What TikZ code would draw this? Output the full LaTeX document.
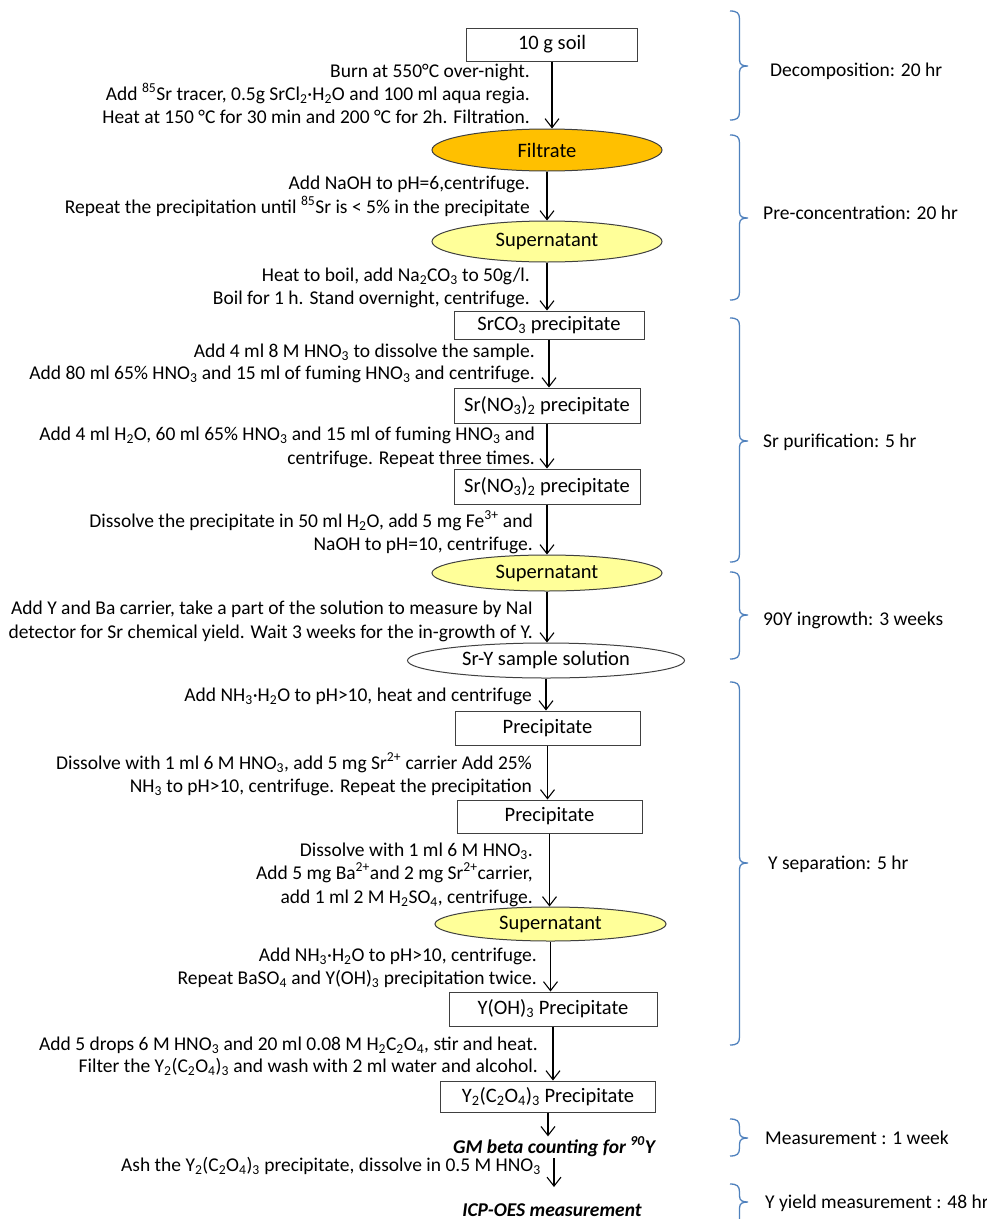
\documentclass[tikz,border=0pt]{standalone}
\usepackage{fontspec}
\setmainfont{Carlito}
\usetikzlibrary{arrows.meta,shapes.geometric}
\definecolor{brcblue}{RGB}{79,129,189}
\definecolor{filtc}{RGB}{255,192,0}
\definecolor{supc}{RGB}{255,255,153}
\definecolor{edgec}{RGB}{64,64,64}
\newcommand\ybrace[3]{\draw[brc] (730,#1) .. controls (737,#1) and (739.5,#1+2) .. (739.5,#1+8) -- (739.5,#2-6) .. controls (739.5,#2-1) and (743,#2) .. (748,#2) .. controls (743,#2) and (739.5,#2+1) .. (739.5,#2+6) -- (739.5,#3-8) .. controls (739.5,#3-2) and (737,#3) .. (730,#3);}
\newcommand\sub[1]{\textsubscript{#1}}
\newcommand\sups[1]{\textsuperscript{#1}}
\begin{document}
\begin{tikzpicture}[x=1pt,y=-1pt,font=\fontsize{19.5}{23}\selectfont,
  box/.style={draw=edgec,line width=1pt,fill=white,inner sep=0pt,font=\fontsize{20.5}{24}\selectfont},
  oval/.style={ellipse,draw=edgec,line width=1pt,inner sep=0pt,font=\fontsize{20.5}{24}\selectfont},
  note/.style={anchor=base east,inner sep=0pt},
  lbl/.style={anchor=base west,inner sep=0pt},
  res/.style={anchor=base,inner sep=0pt,font=\fontsize{19.5}{23}\selectfont\bfseries\itshape},
  arr/.style={-{Straight Barb[length=9pt,width=14pt]},line width=1.1pt},
  brc/.style={draw=brcblue,line width=1.3pt}]
\useasboundingbox (0,0) rectangle (987,1219);
\clip (0,0) rectangle (987,1219);
\fill[white] (0,0) rectangle (987,1219);

% main chain
\node[box,minimum width=171pt,minimum height=33pt] (n1) at (552,44.5) {10 g soil};
\node[oval,fill=filtc,minimum width=230pt,minimum height=42pt] (n2) at (547,150) {Filtrate};
\node[oval,fill=supc,minimum width=230pt,minimum height=41pt] (n3) at (547,241.5) {Supernatant};
\node[box,minimum width=190pt,minimum height=28pt] (n4) at (549,325) {SrCO\sub{3} precipitate};
\node[box,minimum width=186pt,minimum height=35pt] (n5) at (547,405.5) {Sr(NO\sub{3})\sub{2} precipitate};
\node[box,minimum width=186pt,minimum height=35pt] (n6) at (547,486.5) {Sr(NO\sub{3})\sub{2} precipitate};
\node[oval,fill=supc,minimum width=230pt,minimum height=36pt] (n7) at (547,573) {Supernatant};
\node[oval,fill=white,minimum width=277pt,minimum height=35pt] (n8) at (546,660.5) {Sr-Y sample solution};
\node[box,minimum width=185pt,minimum height=34pt] (n9) at (547.5,728) {Precipitate};
\node[box,minimum width=185pt,minimum height=33pt] (n10) at (549.5,816.5) {Precipitate};
\node[oval,fill=supc,minimum width=231pt,minimum height=34pt] (n11) at (550.5,924) {Supernatant};
\node[box,minimum width=208pt,minimum height=34pt] (n12) at (553,1009) {Y(OH)\sub{3} Precipitate};
\node[box,minimum width=215pt,minimum height=31pt] (n13) at (548,1096.5) {Y\sub{2}(C\sub{2}O\sub{4})\sub{3} Precipitate};
\node[res] (n14) at (554,1153) {GM beta counting for \sups{90}Y};
\node[res] (n15) at (552,1216) {ICP-OES measurement};

\draw[arr] (n1.south) -- (n1.south |- n2.north);
\draw[arr] (n2.south) -- (n2.south |- n3.north);
\draw[arr] (n3.south) -- (n3.south |- n4.north);
\draw[arr] (n4.south) -- (n4.south |- n5.north);
\draw[arr] (n5.south) -- (n5.south |- n6.north);
\draw[arr] (n6.south) -- (n6.south |- n7.north);
\draw[arr] (n7.south) -- (n7.south |- n8.north);
\draw[arr] (n8.south) -- (n8.south |- n9.north);
\draw[arr] (n9.south) -- (n9.south |- n10.north);
\draw[arr] (n10.south) -- (n10.south |- n11.north);
\draw[arr] (n11.south) -- (n11.south |- n12.north);
\draw[arr] (n12.south) -- (n12.south |- n13.north);
\draw[arr] (n13.south) -- (n13.south |- n14.north);
\draw[arr,shorten >=16pt] ([yshift=-2pt]n14.south) -- (n14.south |- n15.north);

% step notes
\node[note] (t1a) at (530,77) {Burn at 550°C over-night.};
\node[note] (t1b) at (530,100) {Add \sups{85}Sr tracer, 0.5g SrCl\sub{2}·H\sub{2}O and 100 ml aqua regia.};
\node[note] (t1c) at (530,123) {Heat at 150 °C for 30 min and 200 °C for 2h. Filtration.};
\node[note] (t2a) at (530,189) {Add NaOH to pH=6,centrifuge.};
\node[note] (t2b) at (530,213) {Repeat the precipitation until \sups{85}Sr is < 5\% in the precipitate};
\node[note] (t3a) at (530,281) {Heat to boil, add Na\sub{2}CO\sub{3} to 50g/l.};
\node[note] (t3b) at (530,304) {Boil for 1 h. Stand overnight, centrifuge.};
\node[note] (t4a) at (535,357) {Add 4 ml 8 M HNO\sub{3} to dissolve the sample.};
\node[note] (t4b) at (535,379) {Add 80 ml 65\% HNO\sub{3} and 15 ml of fuming HNO\sub{3} and centrifuge.};
\node[note] (t5a) at (535,440) {Add 4 ml H\sub{2}O, 60 ml 65\% HNO\sub{3} and 15 ml of fuming HNO\sub{3} and};
\node[note] (t5b) at (535,464) {centrifuge. Repeat three times.};
\node[note] (t6a) at (533,527) {Dissolve the precipitate in 50 ml H\sub{2}O, add 5 mg Fe\sups{3+} and};
\node[note] (t6b) at (533,550) {NaOH to pH=10, centrifuge.};
\node[note] (t7a) at (533,614) {Add Y and Ba carrier, take a part of the solution to measure by NaI};
\node[note] (t7b) at (533,638) {detector for Sr chemical yield. Wait 3 weeks for the in-growth of Y.};
\node[note] (t8a) at (532,701) {Add NH\sub{3}·H\sub{2}O to pH>10, heat and centrifuge};
\node[note] (t9a) at (532,769) {Dissolve with 1 ml 6 M HNO\sub{3}, add 5 mg Sr\sups{2+} carrier Add 25\%};
\node[note] (t9b) at (532,792) {NH\sub{3} to pH>10, centrifuge. Repeat the precipitation};
\node[note] (t10a) at (533,856) {Dissolve with 1 ml 6 M HNO\sub{3}.};
\node[note] (t10b) at (533,879) {Add 5 mg Ba\sups{2+}and 2 mg Sr\sups{2+}carrier,};
\node[note] (t10c) at (533,903) {add 1 ml 2 M H\sub{2}SO\sub{4}, centrifuge.};
\node[note] (t11a) at (537,961) {Add NH\sub{3}·H\sub{2}O to pH>10, centrifuge.};
\node[note] (t11b) at (537,984) {Repeat BaSO\sub{4} and Y(OH)\sub{3} precipitation twice.};
\node[note] (t12a) at (538,1050) {Add 5 drops 6 M HNO\sub{3} and 20 ml 0.08 M H\sub{2}C\sub{2}O\sub{4}, stir and heat.};
\node[note] (t12b) at (538,1072) {Filter the Y\sub{2}(C\sub{2}O\sub{4})\sub{3} and wash with 2 ml water and alcohol.};
\node[note] (t13a) at (541,1171) {Ash the Y\sub{2}(C\sub{2}O\sub{4})\sub{3} precipitate, dissolve in 0.5 M HNO\sub{3}};

% stage brackets
\ybrace{11}{66}{120}
\ybrace{135}{218}{300}
\ybrace{318}{441}{562}
\ybrace{572}{615}{659}
\ybrace{682}{863}{1045}
\ybrace{1119}{1138}{1156}
\ybrace{1184}{1202}{1240}
\node[lbl] (s1) at (770,76) {Decomposition: 20 hr};
\node[lbl] (s2) at (763,219) {Pre-concentration: 20 hr};
\node[lbl] (s3) at (763,447) {Sr purification: 5 hr};
\node[lbl] (s4) at (763,625) {90Y ingrowth: 3 weeks};
\node[lbl] (s5) at (768,869) {Y separation: 5 hr};
\node[lbl] (s6) at (765,1144) {Measurement : 1 week};
\node[lbl] (s7) at (765,1208) {Y yield measurement : 48 hr};
\end{tikzpicture}
\end{document}
